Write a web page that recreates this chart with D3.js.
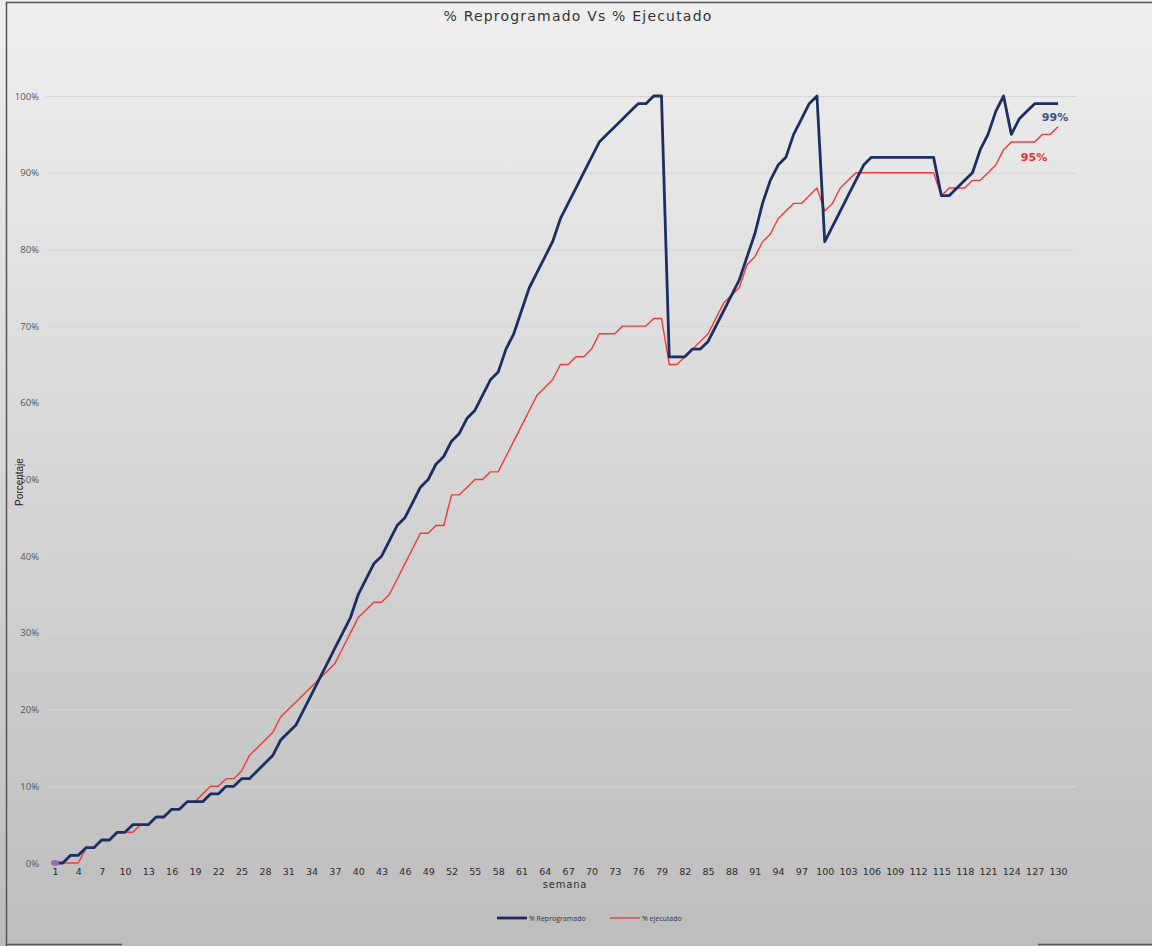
<!DOCTYPE html>
<html>
<head>
<meta charset="utf-8">
<script src="https://cdn.jsdelivr.net/npm/d3@7"></script>
<style>
  html, body { margin: 0; padding: 0; background: #fff; }
  svg { display: block; }
</style>
</head>
<body>
<script>
// 0. data (percent per week)
var weeks = d3.range(1, 131);
var yTicks = [0, 10, 20, 30, 40, 50, 60, 70, 80, 90, 100];

// % Reprogramado
var reprogramado = [
  0, 0, 1, 1, 2, 2, 3, 3, 4, 4, 5, 5, 5, 6, 6, 7, 7, 8, 8, 8,            // 1-20
  9, 9, 10, 10, 11, 11, 12, 13, 14, 16, 17, 18, 20, 22, 24, 26, 28, 30, 32, 35, // 21-40
  37, 39, 40, 42, 44, 45, 47, 49, 50, 52,                                 // 41-50
  53, 55, 56, 58, 59, 61, 63, 64, 67, 69, 72, 75, 77, 79, 81, 84, 86, 88, 90, 92, // 51-70
  94, 95, 96, 97, 98, 99, 99, 100, 100,                                   // 71-79
  66, 66, 66, 67, 67, 68, 70, 72, 74, 76, 79, 82, 86, 89, 91, 92, 95, 97, 99, 100, // 80-99
  81, 83, 85, 87, 89, 91,                                                 // 100-105
  92, 92, 92, 92, 92, 92, 92, 92, 92,                                     // 106-114
  87, 87, 88, 89, 90, 93, 95, 98, 100, 95, 97, 98, 99, 99, 99, 99         // 115-130
];

// % ejecutado
var ejecutado = [
  0, 0, 0, 0, 2, 2, 3, 3, 4, 4, 4, 5, 5, 6, 6, 7, 7, 8, 8, 9,            // 1-20
  10, 10, 11, 11, 12, 14, 15, 16, 17, 19, 20, 21, 22, 23, 24, 25, 26, 28, 30, 32, // 21-40
  33, 34, 34, 35, 37, 39, 41, 43, 43, 44,                                 // 41-50
  44, 48, 48, 49, 50, 50, 51, 51, 53, 55, 57, 59, 61, 62, 63, 65, 65, 66, 66, 67, // 51-70
  69, 69, 69, 70, 70, 70, 70, 71, 71,                                     // 71-79
  65, 65, 66, 67, 68, 69, 71, 73, 74, 75, 78, 79, 81, 82, 84, 85, 86, 86, 87, 88, // 80-99
  85, 86, 88, 89, 90,                                                     // 100-104
  90, 90, 90, 90, 90, 90, 90, 90, 90, 90,                                 // 105-114
  87, 88, 88, 88, 89, 89, 90, 91, 93, 94, 94, 94, 94, 95, 95, 96          // 115-130
];

var seriesNames = ['% Reprogramado', '% ejecutado'];
var endLabels = ['99%', '95%'];

// 1. svg + background
var W = 1152, H = 946;
var svg = d3.select('body').append('svg')
  .attr('width', W).attr('height', H)
  .style('font-family', "'Open Sans', 'DejaVu Sans', sans-serif");

var defs = svg.append('defs');
var grad = defs.append('linearGradient')
  .attr('id', 'bg').attr('x1', 0).attr('y1', 0).attr('x2', 0).attr('y2', 1);
grad.append('stop').attr('offset', '0%').attr('stop-color', '#efefef');
grad.append('stop').attr('offset', '100%').attr('stop-color', '#bdbdbd');

svg.append('rect')
  .attr('x', 0).attr('y', 0).attr('width', W).attr('height', H)
  .attr('fill', 'url(#bg)');

// chart frame (left and top edges, plus bits of the bottom edge)
svg.append('path')
  .attr('d', 'M6.5,946 L6.5,2.5 L1152,2.5 M6,944.5 L122,944.5 M1038,944.5 L1152,944.5')
  .attr('fill', 'none').attr('stroke', '#555').attr('stroke-width', 1.5);

// 2. scales
var x = d3.scaleLinear().domain([1, 130]).range([55, 1058]);
var y = d3.scaleLinear().domain([0, 100]).range([863, 96]);
var gridLeft = 46, gridRight = 1076;

// 2.1 gridlines
svg.append('g').attr('class', 'grid')
  .selectAll('line')
  .data(yTicks.filter(function(d){ return d > 0; }))
  .join('line')
  .attr('x1', gridLeft).attr('x2', gridRight)
  .attr('y1', function(d){ return y(d) + 0.5; })
  .attr('y2', function(d){ return y(d) + 0.5; })
  .attr('stroke', '#d6d6d6').attr('stroke-width', 1);

// 2.2 y axis labels
var yAxis = d3.axisLeft(y).tickValues(yTicks)
  .tickFormat(function(d){ return d + '%'; })
  .tickSize(0).tickPadding(0);
var yG = svg.append('g').attr('transform', 'translate(39,0)').call(yAxis);
yG.select('.domain').remove();
yG.selectAll('text')
  .attr('fill', '#555').style('font-size', '9.5px')
  .style('font-family', "'Open Sans', sans-serif");

// 2.3 x axis labels, every third week
var xAxis = d3.axisBottom(x)
  .tickValues(weeks.filter(function(d){ return (d - 1) % 3 === 0; }))
  .tickFormat(d3.format('d'))
  .tickSize(0).tickPadding(0);
var xG = svg.append('g').attr('transform', 'translate(0,868)').call(xAxis);
xG.select('.domain').remove();
xG.selectAll('text')
  .attr('fill', '#2a2a2a').style('font-size', '9.5px')
  .style('font-family', "'DejaVu Sans', sans-serif");

// 2.4 axis titles
svg.append('text')
  .attr('x', 565).attr('y', 888)
  .attr('text-anchor', 'middle')
  .attr('fill', '#333')
  .style('font-size', '10px').style('letter-spacing', '0.8px')
  .style('font-family', "'DejaVu Sans', sans-serif")
  .text('semana');

svg.append('text')
  .attr('transform', 'translate(23,482) rotate(-90)')
  .attr('text-anchor', 'middle')
  .attr('fill', '#222')
  .style('font-size', '10px')
  .style('font-family', "'Liberation Sans Narrow', 'Liberation Sans', sans-serif")
  .text('Porcentaje');

// title
svg.append('text')
  .attr('x', 578).attr('y', 21)
  .attr('text-anchor', 'middle')
  .attr('fill', '#333')
  .style('font-size', '14px').style('letter-spacing', '1.2px')
  .style('font-family', "'DejaVu Sans', sans-serif")
  .text('% Reprogramado Vs % Ejecutado');

// 3. lines
var line = d3.line()
  .x(function(d, i){ return x(weeks[i]); })
  .y(function(d){ return y(d); });

svg.append('path')
  .datum(ejecutado)
  .attr('d', line)
  .attr('fill', 'none')
  .attr('stroke', '#f23a3a').attr('stroke-width', 1.4)
  .attr('stroke-linejoin', 'round');

svg.append('path')
  .datum(reprogramado)
  .attr('d', line)
  .attr('fill', 'none')
  .attr('stroke', '#1c2f62').attr('stroke-width', 2.8)
  .attr('stroke-linejoin', 'round');

// purple marker at week 1
svg.append('ellipse')
  .attr('cx', x(weeks[0])).attr('cy', y(0))
  .attr('rx', 4).attr('ry', 3)
  .attr('fill', '#9a6bb0');

// 3.1 end labels
svg.append('text')
  .attr('x', 1055).attr('y', 121)
  .attr('text-anchor', 'middle')
  .attr('fill', '#3b5580')
  .style('font-size', '11px').style('font-weight', 'bold')
  .style('font-family', "'DejaVu Sans', sans-serif")
  .text(endLabels[0]);

svg.append('text')
  .attr('x', 1034).attr('y', 161)
  .attr('text-anchor', 'middle')
  .attr('fill', '#ef3030')
  .style('font-size', '11px').style('font-weight', 'bold')
  .style('font-family', "'DejaVu Sans', sans-serif")
  .text(endLabels[1]);

// 4. legend
var legend = svg.append('g').attr('transform', 'translate(497,918)');
var legColors = ['#1c2f62', '#f23a3a'];
var legWidths = [2.8, 1.4];
var legX = [0, 113];
seriesNames.forEach(function(name, i){
  var g = legend.append('g').attr('transform', 'translate(' + legX[i] + ',0)');
  g.append('line')
    .attr('x1', 0).attr('x2', 30).attr('y1', 0).attr('y2', 0)
    .attr('stroke', legColors[i]).attr('stroke-width', legWidths[i]);
  g.append('text')
    .attr('x', 32).attr('y', 2.5)
    .attr('fill', '#333')
    .style('font-size', '7px')
    .text(name);
});
</script>
</body>
</html>
